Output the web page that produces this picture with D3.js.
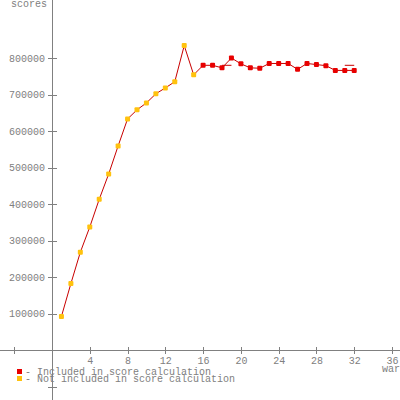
<!DOCTYPE html>
<html>
<head>
<meta charset="utf-8">
<script src="https://cdn.jsdelivr.net/npm/d3@7"></script>
<style>
  body { margin: 0; background: #fff; }
  text { font-family: "Liberation Mono", "DejaVu Sans Mono", monospace; font-size: 10px; fill: #808080; }
</style>
</head>
<body>
<div id="graph"></div>
<script>
// Daten
var wars = [1,2,3,4,5,6,7,8,9,10,11,12,13,14,15,16,17,18,19,20,21,22,23,24,25,26,27,28,29,30,31,32];
var scores = [92000,182000,268000,337000,413000,482000,559000,633000,658000,677000,702000,718000,735000,834000,754000,
              780000,780000,773000,800000,784000,773000,772000,785000,785000,785000,769000,785000,782000,779000,766000,766000,766000];
var included = wars.map(function(w) { return w >= 16; });
var xTicks = [-4,4,8,12,16,20,24,28,32,36];
var yTicks = [-100000,100000,200000,300000,400000,500000,600000,700000,800000];
var segs = [[18,19,780000],[31,32,780000]];
var legendLabels = ["- Included in score calculation", "- Not included in score calculation"];
var legendColors = ["#e80000", "#ffc20e"];

var W = 400, H = 400;
var svg = d3.select("#graph").append("svg")
    .attr("width", W).attr("height", H);

var x = d3.scaleLinear().domain([0, 36]).range([52, 392]);
var y = d3.scaleLinear().domain([0, 800000]).range([350, 58]);

var axisCol = "#808080";

//Achsenlinien
svg.append("line").attr("x1", 0).attr("x2", W).attr("y1", y(0)).attr("y2", y(0))
    .attr("stroke", axisCol).attr("shape-rendering", "crispEdges");
svg.append("line").attr("x1", x(0)).attr("x2", x(0)).attr("y1", 0).attr("y2", H)
    .attr("stroke", axisCol).attr("shape-rendering", "crispEdges");

//x-Achse
var xAxis = svg.append("g")
    .attr("transform", "translate(0," + y(0) + ")")
    .call(d3.axisBottom(x).tickValues(xTicks).tickSize(4)
        .tickFormat(function(d) { return d < 0 ? "" : d; }));
xAxis.select(".domain").remove();
xAxis.selectAll("line").attr("y1", -3).attr("y2", 4).attr("stroke", axisCol).attr("shape-rendering", "crispEdges");
xAxis.selectAll("text").attr("y", 7).attr("dy", "0.71em").attr("font-family", null).attr("font-size", null);

//y-Achse
var yAxis = svg.append("g")
    .attr("transform", "translate(" + x(0) + ",0)")
    .call(d3.axisLeft(y).tickValues(yTicks).tickSize(4)
        .tickFormat(function(d) { return d < 0 ? "" : d; }));
yAxis.select(".domain").remove();
yAxis.selectAll("line").attr("x1", -4).attr("x2", 5).attr("stroke", axisCol).attr("shape-rendering", "crispEdges");
yAxis.selectAll("text").attr("x", -7).attr("font-family", null).attr("font-size", null);

//Achsentitel
svg.append("text").attr("x", 47).attr("y", 7).attr("text-anchor", "end").text("scores");
svg.append("text").attr("x", 382).attr("y", 372).text("wards");

//Linie
var line = d3.line()
    .x(function(d, i) { return x(wars[i]); })
    .y(function(d) { return y(d); });
svg.append("path").datum(scores)
    .attr("d", line)
    .attr("fill", "none")
    .attr("stroke", "#c80000")
    .attr("stroke-width", 1);

svg.selectAll(".seg").data(segs).enter().append("line")
    .attr("class", "seg")
    .attr("x1", function(d) { return x(d[0]); })
    .attr("x2", function(d) { return x(d[1]); })
    .attr("y1", function(d) { return y(d[2]); })
    .attr("y2", function(d) { return y(d[2]); })
    .attr("stroke", "#c80000");

//Punkte
svg.selectAll(".pt").data(scores).enter().append("rect")
    .attr("class", "pt")
    .attr("x", function(d, i) { return x(wars[i]) - 2.5; })
    .attr("y", function(d) { return y(d) - 2.5; })
    .attr("width", 5).attr("height", 5).attr("rx", 1)
    .attr("fill", function(d, i) { return included[i] ? legendColors[0] : legendColors[1]; });

//Legende
var leg = svg.selectAll(".leg").data(legendLabels).enter().append("g")
    .attr("class", "leg")
    .attr("transform", function(d, i) { return "translate(0," + (375 + i * 7) + ")"; });
leg.append("rect").attr("x", 17).attr("y", -6).attr("width", 5).attr("height", 5)
    .attr("fill", function(d, i) { return legendColors[i]; });
leg.append("text").attr("x", 25).attr("y", 0).text(function(d) { return d; });
</script>
</body>
</html>
